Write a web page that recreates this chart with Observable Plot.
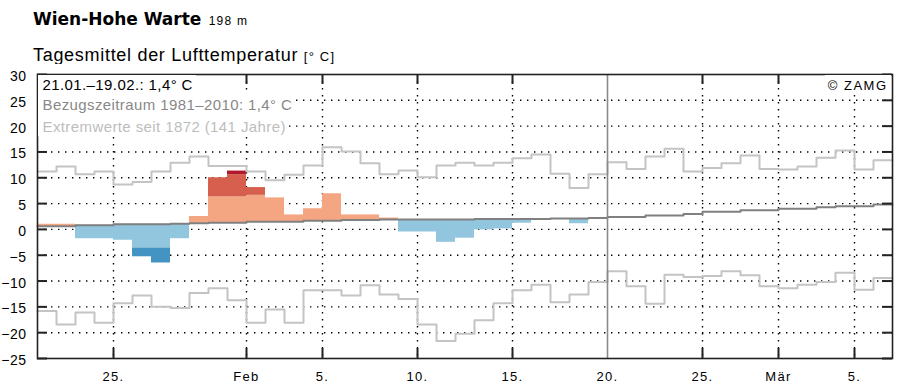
<!DOCTYPE html>
<html><head><meta charset="utf-8">
<script src="https://cdn.jsdelivr.net/npm/d3@7"></script>
<script src="https://cdn.jsdelivr.net/npm/@observablehq/plot@0.6"></script>
<style>
body{margin:0;background:#fff;}
#wrap{position:relative;width:902px;height:389px;overflow:hidden;font-family:"Liberation Sans",Arial,sans-serif;color:#000;}
#title{position:absolute;left:33px;top:9px;white-space:nowrap;line-height:20px;font-size:12px;}
#title .main{font-family:"DejaVu Sans";font-weight:bold;font-size:17px;}
#title .alt{font-size:12px;letter-spacing:1.2px;margin-left:4px;}
#sub{position:absolute;left:33px;top:45px;font-size:18px;letter-spacing:0.7px;white-space:nowrap;line-height:20px;}
#sub .unit{font-size:13px;letter-spacing:1.2px;}
#chart{position:absolute;left:0;top:64px;}
g[aria-label="y-axis tick label"] text{letter-spacing:0.5px;}
g[aria-label="x-axis tick label"] text{letter-spacing:1.3px;}
</style></head>
<body>
<div id="wrap">
  <div id="title"><span class="main">Wien-Hohe Warte</span> <span class="alt">198 m</span></div>
  <div id="sub">Tagesmittel der Lufttemperatur <span class="unit">[° C]</span></div>
  <div id="chart"></div>
</div>
<script>
// ---- data (daily values, 21 Jan – 6 Mar) ----
const startDate = new Date(Date.UTC(2013, 0, 21));
const endDate = new Date(Date.UTC(2013, 2, 7));
const periodEnd = new Date(Date.UTC(2013, 1, 20));

// observed daily mean 21.01.–19.02.
const observed = [1.0, 1.0, -1.8, -1.8, -2.1, -5.3, -6.5, -1.8, 2.5, 10.0,
  11.3, 8.1, 6.1, 2.8, 4.0, 6.9, 2.8, 2.8, 2.2, -0.5,
  -0.5, -2.5, -1.7, -0.1, 0.1, 1.2, 2.0, 2.1, 1.1, 2.2];

// band limits for colour shading (above / below the reference mean)
const warmLimit1 = [5.7, 5.7, 5.8, 5.8, 6.0, 6.0, 6.0, 6.1, 6.2, 6.3,
  6.3, 6.6, 6.6, 6.6, 7.0, 7.0, 6.9, 6.9, 7.0, 7.0,
  7.0, 7.0, 7.0, 7.1, 7.1, 7.1, 7.1, 7.2, 7.2, 7.3];
const warmLimit2 = [9.9, 9.9, 10.1, 10.1, 10.3, 10.3, 10.3, 10.4, 10.5, 10.6,
  10.6, 10.8, 10.8, 10.8, 11.0, 11.0, 11.1, 11.1, 11.2, 11.2,
  11.2, 11.2, 11.2, 11.3, 11.3, 11.3, 11.3, 11.4, 11.4, 11.5];
const coldLimit1 = [-4.0, -4.0, -3.8, -3.8, -3.6, -3.6, -3.6, -3.5, -3.4, -3.3,
  -3.3, -3.1, -3.1, -3.1, -2.9, -2.9, -2.8, -2.8, -2.7, -2.7,
  -2.7, -2.7, -2.7, -2.6, -2.6, -2.6, -2.6, -2.5, -2.5, -2.4];

// reference mean 1981–2010
const climMean = [0.6, 0.6, 0.8, 0.8, 1.0, 1.0, 1.0, 1.1, 1.2, 1.3,
  1.3, 1.5, 1.5, 1.5, 1.7, 1.7, 1.8, 1.8, 1.9, 1.9,
  1.9, 1.9, 1.9, 2.0, 2.0, 2.0, 2.0, 2.1, 2.1, 2.2,
  2.4, 2.4, 2.7, 2.7, 3.0, 3.4, 3.4, 3.7, 3.7, 4.0,
  4.0, 4.3, 4.5, 4.5, 4.8];

// extremes since 1872
const recordMax = [11.2, 12.2, 10.7, 11.2, 8.7, 9.2, 11.2, 12.9, 14.1, 12.3,
  12.3, 11.2, 9.5, 10.6, 12.4, 15.9, 15.1, 12.8, 10.7, 11.4,
  10.1, 12.4, 12.9, 12.4, 12.9, 13.8, 14.5, 10.8, 8.0, 10.7,
  13.0, 11.7, 14.1, 15.6, 11.2, 11.9, 12.8, 14.3, 11.7, 11.6,
  12.2, 13.9, 15.3, 11.6, 13.4];
const recordMin = [-15.8, -18.4, -16.1, -18.1, -14.3, -12.8, -15.0, -15.2, -12.3, -11.4,
  -13.7, -18.1, -15.5, -18.1, -11.8, -11.8, -12.8, -10.8, -12.6, -13.5,
  -18.4, -21.6, -20.2, -17.6, -14.3, -11.8, -10.7, -14.1, -12.6, -10.2,
  -8.1, -11.0, -14.4, -8.8, -9.2, -9.0, -8.1, -8.9, -11.0, -11.4,
  -10.7, -10.2, -8.4, -11.7, -9.4];

const yTicks = [30, 25, 20, 15, 10, 5, 0, -5, -10, -15, -20, -25];
const yGrid = [25, 20, 15, 10, 5, 0, -5, -10, -15, -20];
const xTickDates = [
  new Date(Date.UTC(2013, 0, 25)), new Date(Date.UTC(2013, 1, 1)), new Date(Date.UTC(2013, 1, 5)),
  new Date(Date.UTC(2013, 1, 10)), new Date(Date.UTC(2013, 1, 15)), new Date(Date.UTC(2013, 1, 20)),
  new Date(Date.UTC(2013, 1, 25)), new Date(Date.UTC(2013, 2, 1)), new Date(Date.UTC(2013, 2, 5))];
const xTickLabels = ["25.", "Feb", "5.", "10.", "15.", "20.", "25.", "Mär", "5."];

const legendLines = ["21.01.–19.02.: 1,4° C", "Bezugszeitraum 1981–2010: 1,4° C", "Extremwerte seit 1872 (141 Jahre)"];
const creditText = "© ZAMG";

// ---- build ----
const days = d3.utcDay.range(startDate, endDate);
const segs = [];
observed.forEach((v, i) => {
  const c = climMean[i], x1 = days[i], x2 = d3.utcDay.offset(days[i], 1);
  if (v >= c) {
    segs.push({x1, x2, y1: c, y2: Math.min(v, warmLimit1[i]), k: "w1"});
    if (v > warmLimit1[i]) segs.push({x1, x2, y1: warmLimit1[i], y2: Math.min(v, warmLimit2[i]), k: "w2"});
    if (v > warmLimit2[i]) segs.push({x1, x2, y1: warmLimit2[i], y2: v, k: "w3"});
  } else {
    segs.push({x1, x2, y1: c, y2: Math.max(v, coldLimit1[i]), k: "c1"});
    if (v < coldLimit1[i]) segs.push({x1, x2, y1: coldLimit1[i], y2: v, k: "c2"});
  }
});
const colors = {w1: "#f4a582", w2: "#d6604d", w3: "#b2182b", c1: "#92c5de", c2: "#4393c3"};
const stepData = arr => arr.map((v, i) => ({x: days[i], y: v})).concat([{x: endDate, y: arr[arr.length - 1]}]);
const labelMap = new Map(xTickDates.map((d, i) => [+d, xTickLabels[i]]));
const innerTicks = xTickDates.filter(d => +d !== +periodEnd);

const W = 902, H = 325, mL = 37, mR = 10, mT = 10, mB = 31;
const fw = W - mL - mR, fh = H - mT - mB;
const tickLen = 10;

const chart = Plot.plot({
  width: W, height: H, marginLeft: mL, marginRight: mR, marginTop: mT, marginBottom: mB,
  style: {fontFamily: "'Liberation Sans', Arial, sans-serif", background: "#fff", color: "#000", overflow: "visible"},
  x: {type: "utc", domain: [startDate, endDate]},
  y: {domain: [-25, 30]},
  marks: [
    Plot.ruleY(yGrid, {y: d => d, stroke: "#000", strokeWidth: 1.4, strokeDasharray: "1.4,5.6"}),
    Plot.ruleX(innerTicks, {x: d => d, stroke: "#000", strokeWidth: 1.4, strokeDasharray: "1.4,5.6"}),
    ...Object.keys(colors).map(k => Plot.rect(segs.filter(s => s.k === k), {x1: "x1", x2: "x2", y1: "y1", y2: "y2", fill: colors[k]})),
    Plot.line(stepData(recordMax), {x: "x", y: "y", curve: "step-after", stroke: "#c4c4c4", strokeWidth: 2}),
    Plot.line(stepData(recordMin), {x: "x", y: "y", curve: "step-after", stroke: "#c4c4c4", strokeWidth: 2}),
    Plot.line(stepData(climMean), {x: "x", y: "y", curve: "step-after", stroke: "#808080", strokeWidth: 2}),
    Plot.ruleX([periodEnd], {x: d => d, stroke: "#8a8a8a", strokeWidth: 1.6}),
    Plot.ruleY(yTicks, {y: d => d, stroke: "#222", strokeWidth: 2, insetRight: fw - tickLen}),
    Plot.ruleY(yTicks, {y: d => d, stroke: "#222", strokeWidth: 2, insetLeft: fw - tickLen}),
    Plot.ruleX(innerTicks, {x: d => d, stroke: "#222", strokeWidth: 2, insetTop: fh - tickLen}),
    Plot.ruleX(innerTicks, {x: d => d, stroke: "#222", strokeWidth: 2, insetBottom: fh - tickLen}),
    Plot.frame({stroke: "#222", strokeWidth: 1.6}),
    Plot.axisY({ticks: yTicks, tickSize: 0, tickPadding: 11, fontSize: 14, dy: 2, label: null}),
    Plot.axisX({ticks: xTickDates, tickSize: 0, tickPadding: 13, fontSize: 13, label: null, tickFormat: d => labelMap.get(+d)}),
    Plot.text([legendLines[0]], {text: d => d, frameAnchor: "top-left", textAnchor: "start", lineAnchor: "middle", dx: 5, dy: 11, fontSize: 15, fill: "#000"}),
    Plot.text([legendLines[1]], {text: d => d, frameAnchor: "top-left", textAnchor: "start", lineAnchor: "middle", dx: 5, dy: 31, fontSize: 15, fill: "#888"}),
    Plot.text([legendLines[2]], {text: d => d, frameAnchor: "top-left", textAnchor: "start", lineAnchor: "middle", dx: 5, dy: 53, fontSize: 15, fill: "#bdbdbd"}),
    Plot.text([creditText], {text: d => d, frameAnchor: "top-right", textAnchor: "end", lineAnchor: "middle", dx: -5, dy: 11, fontSize: 13, fill: "#000"})
  ]
});
document.getElementById("chart").append(chart);

// white boxes behind the in-plot texts (hide gridlines and ticks under them)
const ns = "http://www.w3.org/2000/svg";
const xr = chart.scale("x").range, yr = chart.scale("y").range;
const frameLeft = Math.min(...xr), frameRight = Math.max(...xr), frameTop = Math.min(...yr);
const allText = Array.from(chart.querySelectorAll("text"));
const legendEls = legendLines.map(s => allText.find(e => e.textContent === s));
const creditEl = allText.find(e => e.textContent === creditText);
legendEls.forEach(t => { if (t) t.style.letterSpacing = "0.4px"; });
if (creditEl) creditEl.style.letterSpacing = "1.5px";
const svgBox = chart.getBoundingClientRect();
const boxG = document.createElementNS(ns, "g");
boxG.setAttribute("fill", "#fff");
const firstMarkG = legendEls[0] ? legendEls[0].closest("svg > g") : null;
if (firstMarkG) chart.insertBefore(boxG, firstMarkG); else chart.appendChild(boxG);
const addRect = (x0, y0, x1, y1) => {
  const r = document.createElementNS(ns, "rect");
  r.setAttribute("x", x0); r.setAttribute("y", y0);
  r.setAttribute("width", Math.max(0, x1 - x0)); r.setAttribute("height", Math.max(0, y1 - y0));
  boxG.appendChild(r);
};
let prevBottom = frameTop + 1;
legendEls.forEach(t => {
  if (!t) return;
  const b = t.getBoundingClientRect();
  const right = b.right - svgBox.left + 3, bottom = b.bottom - svgBox.top + 1;
  addRect(frameLeft + 1, prevBottom, right, bottom);
  prevBottom = bottom;
});
if (creditEl) {
  const b = creditEl.getBoundingClientRect();
  addRect(b.left - svgBox.left - 3, frameTop + 1, frameRight - 1, b.bottom - svgBox.top + 1);
}
</script>
</body></html>
